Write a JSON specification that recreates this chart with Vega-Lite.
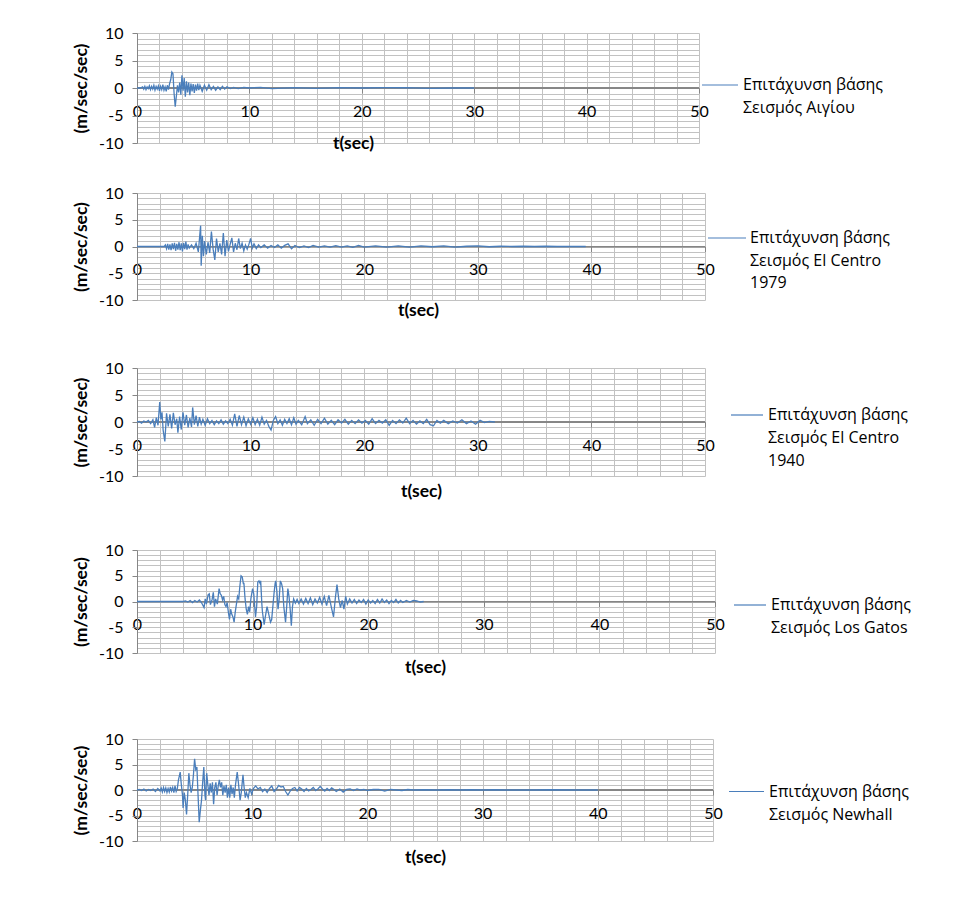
{
  "$schema": "https://vega.github.io/schema/vega-lite/v6.json",
  "background": "white",
  "padding": {"left": 72, "top": 25, "right": 0, "bottom": 0},
  "config": {
    "view": {"stroke": null},
    "font": "Lato",
    "axis": {"labelFont": "Lato", "labelFontSize": 16, "labelColor": "#000000", "titleFont": "Lato", "titleColor": "#000000", "titleFontWeight": "bold", "titleFontSize": 17.5, "gridColor": "#c2c2c2", "gridWidth": 1, "domainColor": "#868686", "tickColor": "#868686", "labelOverlap": false},
    "axisY": {"grid": true, "tickSize": 5, "labelPadding": 9, "titlePadding": 8, "labelOverlap": false},
    "legend": {"labelFont": "Open Sans", "labelFontSize": 16, "labelColor": "#000000"}
  },
  "datasets": {
    "aigio": [
      {"t":0,"a":0},{"t":0.3,"a":0},{"t":0.5,"a":0.2},{"t":0.6,"a":-0.2},{"t":0.7,"a":0.3},{"t":0.8,"a":-0.3},{"t":0.9,"a":0.2},{"t":1.0,"a":-0.1},{"t":1.1,"a":0.4},{"t":1.2,"a":-0.3},{"t":1.3,"a":0.3},{"t":1.4,"a":-0.2},{"t":1.5,"a":0.5},{"t":1.6,"a":-0.4},{"t":1.7,"a":0.3},{"t":1.8,"a":-0.2},{"t":1.9,"a":0.4},{"t":2.0,"a":-0.5},{"t":2.1,"a":0.3},{"t":2.2,"a":-0.3},{"t":2.3,"a":0.6},{"t":2.4,"a":-0.4},{"t":2.5,"a":0.2},{"t":2.6,"a":-0.6},{"t":2.7,"a":0.5},{"t":2.8,"a":-0.3},{"t":2.9,"a":0.8},{"t":3.0,"a":1.5},{"t":3.1,"a":2.9},{"t":3.2,"a":2.6},{"t":3.3,"a":-1.0},{"t":3.4,"a":-3.4},{"t":3.5,"a":-1.5},{"t":3.6,"a":0.5},{"t":3.7,"a":-0.8},{"t":3.8,"a":1.0},{"t":3.9,"a":-1.2},{"t":4.0,"a":2.3},{"t":4.1,"a":-0.5},{"t":4.2,"a":1.8},{"t":4.3,"a":-1.6},{"t":4.4,"a":1.2},{"t":4.5,"a":-0.8},{"t":4.6,"a":1.0},{"t":4.7,"a":-1.3},{"t":4.8,"a":0.8},{"t":4.9,"a":-0.6},{"t":5.0,"a":0.7},{"t":5.1,"a":-0.9},{"t":5.2,"a":0.6},{"t":5.3,"a":-0.5},{"t":5.4,"a":0.8},{"t":5.5,"a":-0.4},{"t":5.6,"a":0.5},{"t":5.8,"a":-0.6},{"t":6.0,"a":0.5},{"t":6.2,"a":-0.4},{"t":6.4,"a":0.6},{"t":6.6,"a":-0.3},{"t":6.8,"a":0.3},{"t":7.0,"a":-0.4},{"t":7.2,"a":0.2},{"t":7.4,"a":-0.3},{"t":7.6,"a":0.3},{"t":7.8,"a":-0.2},{"t":8.0,"a":0.2},{"t":8.3,"a":-0.1},{"t":8.6,"a":0.1},{"t":9.0,"a":-0.1},{"t":9.5,"a":0.1},{"t":10,"a":0},{"t":11,"a":0.1},{"t":12,"a":-0.1},{"t":14,"a":0.05},{"t":16,"a":-0.05},{"t":18,"a":0.05},{"t":20,"a":0},{"t":22,"a":0.05},{"t":24,"a":0.05},{"t":26,"a":-0.05},{"t":28,"a":0},{"t":30,"a":0}
    ],
    "ec79": [
      {"t":0,"a":0},{"t":2.4,"a":0},{"t":2.5,"a":0.3},{"t":2.6,"a":-0.4},{"t":2.7,"a":0.5},{"t":2.8,"a":-0.6},{"t":2.9,"a":0.4},{"t":3.0,"a":-0.7},{"t":3.1,"a":0.6},{"t":3.2,"a":-0.5},{"t":3.3,"a":0.7},{"t":3.4,"a":-0.8},{"t":3.5,"a":0.5},{"t":3.6,"a":-0.6},{"t":3.7,"a":0.8},{"t":3.8,"a":-0.7},{"t":3.9,"a":0.6},{"t":4.0,"a":-0.9},{"t":4.1,"a":0.7},{"t":4.2,"a":-0.5},{"t":4.3,"a":0.9},{"t":4.4,"a":-0.6},{"t":4.5,"a":0.4},{"t":4.6,"a":-0.3},{"t":4.8,"a":0.3},{"t":5.0,"a":-0.4},{"t":5.2,"a":0.6},{"t":5.4,"a":-1.0},{"t":5.5,"a":1.5},{"t":5.6,"a":3.9},{"t":5.65,"a":-3.6},{"t":5.75,"a":2.0},{"t":5.85,"a":-1.8},{"t":5.95,"a":1.0},{"t":6.1,"a":-1.5},{"t":6.25,"a":0.8},{"t":6.4,"a":-1.2},{"t":6.55,"a":2.8},{"t":6.7,"a":-0.5},{"t":6.85,"a":-2.5},{"t":7.0,"a":1.5},{"t":7.15,"a":-1.0},{"t":7.3,"a":0.6},{"t":7.45,"a":-1.5},{"t":7.6,"a":2.5},{"t":7.75,"a":-1.8},{"t":7.9,"a":1.2},{"t":8.05,"a":-0.9},{"t":8.2,"a":0.4},{"t":8.35,"a":1.6},{"t":8.5,"a":-1.0},{"t":8.65,"a":0.6},{"t":8.8,"a":-0.6},{"t":8.95,"a":1.5},{"t":9.1,"a":-0.4},{"t":9.25,"a":0.6},{"t":9.4,"a":-0.8},{"t":9.55,"a":0.3},{"t":9.7,"a":-0.5},{"t":9.85,"a":0.4},{"t":10.0,"a":1.5},{"t":10.15,"a":-0.3},{"t":10.3,"a":0.5},{"t":10.5,"a":-0.4},{"t":10.7,"a":0.3},{"t":10.9,"a":-0.2},{"t":11.2,"a":0.3},{"t":11.5,"a":-0.3},{"t":11.8,"a":0.2},{"t":12.1,"a":-0.2},{"t":12.4,"a":0.3},{"t":12.7,"a":-0.3},{"t":13.0,"a":0.2},{"t":13.3,"a":0.5},{"t":13.6,"a":-0.4},{"t":13.9,"a":0.2},{"t":14.3,"a":-0.2},{"t":14.7,"a":0.1},{"t":15.1,"a":-0.2},{"t":15.5,"a":0.2},{"t":16,"a":-0.1},{"t":16.5,"a":0.1},{"t":17,"a":-0.1},{"t":17.5,"a":0.15},{"t":18,"a":-0.1},{"t":18.5,"a":0.1},{"t":19,"a":-0.15},{"t":19.5,"a":0.2},{"t":20,"a":-0.1},{"t":21,"a":0.1},{"t":22,"a":-0.1},{"t":23,"a":0.1},{"t":24,"a":-0.1},{"t":25,"a":0.1},{"t":26,"a":-0.05},{"t":27,"a":0.1},{"t":28,"a":-0.1},{"t":29,"a":0.05},{"t":30,"a":0.1},{"t":31,"a":-0.05},{"t":32,"a":0.05},{"t":33,"a":0},{"t":34,"a":0.05},{"t":35,"a":0},{"t":36,"a":0.05},{"t":37,"a":0},{"t":38,"a":0},{"t":39.5,"a":0}
    ],
    "ec40": [
      {"t":0,"a":0},{"t":0.2,"a":0.1},{"t":0.4,"a":-0.2},{"t":0.6,"a":0.2},{"t":0.8,"a":0},{"t":1.0,"a":0.3},{"t":1.2,"a":-0.3},{"t":1.4,"a":0.4},{"t":1.55,"a":-1.0},{"t":1.7,"a":0.8},{"t":1.85,"a":-0.6},{"t":2.0,"a":3.7},{"t":2.1,"a":0.5},{"t":2.2,"a":1.8},{"t":2.3,"a":-1.5},{"t":2.45,"a":-3.6},{"t":2.6,"a":1.6},{"t":2.75,"a":-0.8},{"t":2.9,"a":1.4},{"t":3.05,"a":-1.2},{"t":3.2,"a":1.7},{"t":3.35,"a":-0.5},{"t":3.5,"a":0.6},{"t":3.6,"a":-2.0},{"t":3.75,"a":1.0},{"t":3.9,"a":-1.4},{"t":4.05,"a":1.8},{"t":4.2,"a":-0.6},{"t":4.35,"a":1.3},{"t":4.5,"a":-1.0},{"t":4.65,"a":0.7},{"t":4.8,"a":-0.9},{"t":4.9,"a":2.7},{"t":5.05,"a":-0.5},{"t":5.2,"a":1.2},{"t":5.35,"a":-0.8},{"t":5.5,"a":0.9},{"t":5.65,"a":-0.4},{"t":5.8,"a":0.5},{"t":6.0,"a":-0.6},{"t":6.2,"a":0.6},{"t":6.4,"a":-0.3},{"t":6.6,"a":0.3},{"t":6.8,"a":-0.5},{"t":7.0,"a":0.2},{"t":7.2,"a":-0.3},{"t":7.4,"a":0.4},{"t":7.6,"a":-0.4},{"t":7.8,"a":0.2},{"t":8.0,"a":-0.3},{"t":8.2,"a":0.5},{"t":8.4,"a":-0.6},{"t":8.6,"a":1.5},{"t":8.8,"a":-0.8},{"t":9.0,"a":1.2},{"t":9.2,"a":-0.5},{"t":9.4,"a":0.9},{"t":9.6,"a":-0.7},{"t":9.8,"a":0.6},{"t":10.0,"a":-0.4},{"t":10.2,"a":0.8},{"t":10.4,"a":-0.5},{"t":10.6,"a":0.5},{"t":10.8,"a":-0.6},{"t":11.0,"a":0.9},{"t":11.2,"a":-0.4},{"t":11.4,"a":0.3},{"t":11.6,"a":-0.8},{"t":11.8,"a":-1.5},{"t":12.0,"a":0.3},{"t":12.2,"a":1.0},{"t":12.4,"a":-0.3},{"t":12.6,"a":0.4},{"t":12.8,"a":-0.6},{"t":13.0,"a":0.5},{"t":13.2,"a":-0.3},{"t":13.4,"a":0.6},{"t":13.6,"a":-0.5},{"t":13.8,"a":0.8},{"t":14.0,"a":-0.4},{"t":14.2,"a":0.3},{"t":14.5,"a":-0.5},{"t":14.8,"a":1.0},{"t":15.0,"a":-0.3},{"t":15.3,"a":0.4},{"t":15.6,"a":-0.6},{"t":15.9,"a":0.5},{"t":16.2,"a":-0.3},{"t":16.5,"a":0.7},{"t":16.8,"a":-0.4},{"t":17.1,"a":0.3},{"t":17.4,"a":-0.5},{"t":17.7,"a":0.4},{"t":18.0,"a":-0.2},{"t":18.3,"a":0.5},{"t":18.6,"a":-0.4},{"t":18.9,"a":0.3},{"t":19.2,"a":-0.3},{"t":19.5,"a":0.4},{"t":19.8,"a":-0.2},{"t":20.1,"a":0.3},{"t":20.4,"a":-0.4},{"t":20.7,"a":0.6},{"t":21.0,"a":-0.3},{"t":21.3,"a":0.3},{"t":21.6,"a":-0.2},{"t":21.9,"a":0.4},{"t":22.2,"a":-0.6},{"t":22.5,"a":0.3},{"t":22.8,"a":-0.3},{"t":23.1,"a":0.4},{"t":23.4,"a":-0.2},{"t":23.7,"a":0.7},{"t":24.0,"a":-0.3},{"t":24.3,"a":0.3},{"t":24.6,"a":-0.4},{"t":24.9,"a":0.2},{"t":25.2,"a":-0.3},{"t":25.5,"a":0.5},{"t":25.8,"a":-0.5},{"t":26.1,"a":-0.7},{"t":26.4,"a":0.3},{"t":26.7,"a":-0.2},{"t":27.0,"a":0.3},{"t":27.4,"a":-0.3},{"t":27.8,"a":0.2},{"t":28.2,"a":-0.2},{"t":28.6,"a":0.4},{"t":29.0,"a":-0.3},{"t":29.4,"a":0.2},{"t":29.8,"a":-0.4},{"t":30.2,"a":0.3},{"t":30.6,"a":-0.1},{"t":31.0,"a":0.1},{"t":31.5,"a":0}
    ],
    "gatos": [
      {"t":0,"a":0},{"t":2,"a":0},{"t":4,"a":0},{"t":4.2,"a":0.1},{"t":4.4,"a":-0.1},{"t":4.6,"a":0.2},{"t":4.8,"a":-0.2},{"t":5.0,"a":0.2},{"t":5.2,"a":-0.1},{"t":5.4,"a":0.3},{"t":5.6,"a":-0.3},{"t":5.8,"a":-1.2},{"t":5.9,"a":0.5},{"t":6.0,"a":-0.5},{"t":6.15,"a":1.3},{"t":6.25,"a":1.5},{"t":6.35,"a":-0.6},{"t":6.5,"a":0.4},{"t":6.6,"a":1.8},{"t":6.7,"a":-1.0},{"t":6.8,"a":0.5},{"t":6.95,"a":-0.5},{"t":7.1,"a":2.5},{"t":7.2,"a":1.5},{"t":7.3,"a":1.2},{"t":7.4,"a":0.3},{"t":7.5,"a":1.0},{"t":7.6,"a":-0.6},{"t":7.7,"a":-1.0},{"t":7.8,"a":-0.2},{"t":7.9,"a":-2.0},{"t":8.0,"a":-3.5},{"t":8.1,"a":-1.5},{"t":8.2,"a":-2.5},{"t":8.3,"a":-3.0},{"t":8.4,"a":-4.0},{"t":8.5,"a":-2.0},{"t":8.6,"a":-0.5},{"t":8.7,"a":1.0},{"t":8.8,"a":0.5},{"t":8.9,"a":3.0},{"t":9.0,"a":5.0},{"t":9.1,"a":4.8},{"t":9.2,"a":3.5},{"t":9.25,"a":3.5},{"t":9.35,"a":0.5},{"t":9.45,"a":-1.5},{"t":9.55,"a":-2.5},{"t":9.65,"a":-1.0},{"t":9.75,"a":-2.0},{"t":9.85,"a":0.5},{"t":10.0,"a":2.5},{"t":10.1,"a":1.5},{"t":10.25,"a":-3.0},{"t":10.35,"a":-1.0},{"t":10.45,"a":3.8},{"t":10.55,"a":4.0},{"t":10.65,"a":3.5},{"t":10.7,"a":4.0},{"t":10.8,"a":-0.5},{"t":10.85,"a":-2.0},{"t":11.0,"a":-4.5},{"t":11.1,"a":-3.0},{"t":11.25,"a":-1.0},{"t":11.4,"a":-2.5},{"t":11.55,"a":-4.0},{"t":11.65,"a":-3.5},{"t":11.75,"a":-1.0},{"t":11.85,"a":1.5},{"t":11.95,"a":3.5},{"t":12.0,"a":4.0},{"t":12.1,"a":2.0},{"t":12.2,"a":-1.5},{"t":12.3,"a":0.5},{"t":12.4,"a":4.0},{"t":12.5,"a":3.5},{"t":12.6,"a":2.5},{"t":12.7,"a":-1.0},{"t":12.85,"a":-4.0},{"t":12.95,"a":-1.0},{"t":13.05,"a":2.5},{"t":13.15,"a":1.0},{"t":13.25,"a":-1.5},{"t":13.35,"a":-4.7},{"t":13.45,"a":-1.0},{"t":13.55,"a":0.5},{"t":13.7,"a":-0.3},{"t":13.85,"a":0.4},{"t":14.0,"a":-0.4},{"t":14.2,"a":0.5},{"t":14.4,"a":-0.5},{"t":14.6,"a":0.6},{"t":14.8,"a":-0.4},{"t":15.0,"a":0.7},{"t":15.2,"a":-0.6},{"t":15.4,"a":0.5},{"t":15.6,"a":-0.3},{"t":15.8,"a":0.8},{"t":16.0,"a":-0.5},{"t":16.2,"a":1.0},{"t":16.4,"a":-0.8},{"t":16.6,"a":1.2},{"t":16.8,"a":-1.0},{"t":17.0,"a":-3.0},{"t":17.15,"a":0.5},{"t":17.3,"a":3.3},{"t":17.45,"a":0.5},{"t":17.6,"a":-1.2},{"t":17.75,"a":0.2},{"t":17.9,"a":-1.5},{"t":18.05,"a":1.0},{"t":18.2,"a":-0.5},{"t":18.4,"a":0.5},{"t":18.6,"a":-0.3},{"t":18.8,"a":0.4},{"t":19.0,"a":-0.4},{"t":19.2,"a":0.3},{"t":19.4,"a":-0.2},{"t":19.6,"a":0.4},{"t":19.8,"a":-0.5},{"t":20.0,"a":0.3},{"t":20.2,"a":-0.3},{"t":20.4,"a":0.2},{"t":20.6,"a":-0.4},{"t":20.8,"a":0.4},{"t":21.0,"a":-0.3},{"t":21.2,"a":0.5},{"t":21.4,"a":-0.2},{"t":21.6,"a":0.3},{"t":21.8,"a":-0.4},{"t":22.0,"a":0.2},{"t":22.2,"a":-0.2},{"t":22.4,"a":0.4},{"t":22.6,"a":-0.3},{"t":22.8,"a":0.2},{"t":23.0,"a":-0.2},{"t":23.3,"a":0.2},{"t":23.6,"a":-0.1},{"t":23.9,"a":0.2},{"t":24.2,"a":0.1},{"t":24.5,"a":-0.1},{"t":24.8,"a":0}
    ],
    "newhall": [
      {"t":0,"a":0},{"t":0.2,"a":0.1},{"t":0.4,"a":-0.1},{"t":0.6,"a":0.2},{"t":0.8,"a":-0.2},{"t":1.0,"a":0.1},{"t":1.2,"a":-0.1},{"t":1.4,"a":0.2},{"t":1.6,"a":-0.3},{"t":1.8,"a":0.3},{"t":2.0,"a":-0.2},{"t":2.1,"a":0.4},{"t":2.2,"a":-0.4},{"t":2.3,"a":0.5},{"t":2.4,"a":-0.3},{"t":2.5,"a":0.4},{"t":2.6,"a":-0.5},{"t":2.7,"a":0.3},{"t":2.8,"a":-0.4},{"t":2.9,"a":0.6},{"t":3.0,"a":-0.2},{"t":3.1,"a":0.5},{"t":3.2,"a":-0.5},{"t":3.3,"a":0.8},{"t":3.4,"a":-0.3},{"t":3.5,"a":0.3},{"t":3.6,"a":2.0},{"t":3.75,"a":3.5},{"t":3.85,"a":1.0},{"t":3.95,"a":-1.0},{"t":4.0,"a":-3.5},{"t":4.1,"a":-0.5},{"t":4.2,"a":-2.0},{"t":4.3,"a":-4.8},{"t":4.4,"a":-1.0},{"t":4.5,"a":3.3},{"t":4.6,"a":1.0},{"t":4.7,"a":-0.5},{"t":4.8,"a":0.5},{"t":4.9,"a":3.0},{"t":5.0,"a":6.1},{"t":5.1,"a":4.0},{"t":5.2,"a":4.5},{"t":5.3,"a":-1.0},{"t":5.4,"a":-6.3},{"t":5.5,"a":-4.0},{"t":5.6,"a":-2.0},{"t":5.7,"a":1.5},{"t":5.8,"a":4.5},{"t":5.9,"a":-1.0},{"t":5.95,"a":-2.0},{"t":6.05,"a":3.3},{"t":6.15,"a":1.0},{"t":6.25,"a":-1.0},{"t":6.35,"a":1.3},{"t":6.45,"a":-0.5},{"t":6.55,"a":1.5},{"t":6.65,"a":-2.8},{"t":6.75,"a":0.5},{"t":6.85,"a":1.5},{"t":6.95,"a":-1.0},{"t":7.05,"a":0.8},{"t":7.15,"a":2.0},{"t":7.25,"a":0.5},{"t":7.35,"a":1.5},{"t":7.45,"a":-1.0},{"t":7.55,"a":0.8},{"t":7.65,"a":-0.5},{"t":7.75,"a":1.0},{"t":7.85,"a":-1.5},{"t":7.95,"a":0.5},{"t":8.05,"a":-1.5},{"t":8.15,"a":1.0},{"t":8.25,"a":-0.8},{"t":8.35,"a":0.5},{"t":8.45,"a":-1.5},{"t":8.55,"a":1.0},{"t":8.7,"a":3.5},{"t":8.8,"a":1.5},{"t":8.95,"a":-2.0},{"t":9.05,"a":-0.5},{"t":9.2,"a":3.0},{"t":9.3,"a":0.5},{"t":9.4,"a":-1.5},{"t":9.5,"a":-0.5},{"t":9.65,"a":-1.5},{"t":9.8,"a":0.3},{"t":9.95,"a":-0.8},{"t":10.1,"a":0.3},{"t":10.3,"a":0.8},{"t":10.5,"a":0.2},{"t":10.7,"a":0.5},{"t":10.9,"a":-0.3},{"t":11.1,"a":0.2},{"t":11.3,"a":-0.5},{"t":11.5,"a":0.3},{"t":11.7,"a":0.8},{"t":11.9,"a":-0.3},{"t":12.1,"a":0.2},{"t":12.3,"a":0.9},{"t":12.5,"a":0.6},{"t":12.7,"a":0.7},{"t":12.9,"a":-0.3},{"t":13.1,"a":-1.0},{"t":13.3,"a":-0.2},{"t":13.5,"a":0.3},{"t":13.7,"a":0.5},{"t":13.9,"a":-0.2},{"t":14.1,"a":0.5},{"t":14.3,"a":0.2},{"t":14.5,"a":-0.3},{"t":14.7,"a":0.3},{"t":14.9,"a":-0.2},{"t":15.1,"a":0.1},{"t":15.3,"a":0.5},{"t":15.5,"a":-0.1},{"t":15.7,"a":0.2},{"t":15.9,"a":0.7},{"t":16.1,"a":0.2},{"t":16.3,"a":-0.2},{"t":16.5,"a":0.3},{"t":16.7,"a":-0.1},{"t":16.9,"a":0.4},{"t":17.1,"a":0.1},{"t":17.3,"a":-0.3},{"t":17.6,"a":0.2},{"t":17.9,"a":-0.4},{"t":18.2,"a":0.1},{"t":18.5,"a":0.2},{"t":18.8,"a":-0.1},{"t":19.1,"a":0.2},{"t":19.4,"a":0},{"t":19.7,"a":0.1},{"t":20.0,"a":-0.1},{"t":20.5,"a":0.1},{"t":21,"a":0.1},{"t":21.5,"a":-0.2},{"t":22,"a":0.1},{"t":22.5,"a":0},{"t":23,"a":-0.1},{"t":23.5,"a":0.1},{"t":24,"a":0},{"t":25,"a":0.05},{"t":26,"a":0},{"t":27,"a":0.05},{"t":28,"a":0},{"t":29,"a":0.05},{"t":30,"a":0},{"t":31,"a":0.05},{"t":32,"a":0},{"t":34,"a":0},{"t":36,"a":0.05},{"t":38,"a":0},{"t":40,"a":0}
    ]
  },
  "bounds": "flush",
  "spacing": 50,
  "resolve": {"scale": {"color": "independent"}, "legend": {"color": "independent"}},
  "vconcat": [
    {
      "width": 562, "height": 110,
      "data": {"name": "aigio"},
      "layer": [
        {
          "mark": {"type": "rule", "color": "#868686", "strokeWidth": 1},
          "encoding": {
            "x": {"datum": 0, "type": "quantitative", "scale": {"domain": [0, 50], "nice": false, "zero": false}, "axis": {"orient": "bottom", "offset": -55, "values": [0,10,20,30,40,50], "grid": false, "domain": true, "ticks": true, "tickSize": 5, "labelPadding": 10, "title": null, "labelFlush": false}},
            "x2": {"datum": 50},
            "y": {"datum": 0, "type": "quantitative", "scale": {"domain": [-10, 10], "nice": false}, "axis": {"title": "(m/sec/sec)", "values": [-10,-9,-8,-7,-6,-5,-4,-3,-2,-1,0,1,2,3,4,5,6,7,8,9,10], "labelExpr": "datum.value % 5 === 0 ? '' + datum.value : ''", "tickOpacity": {"condition": {"test": "datum.value % 5 === 0", "value": 1}, "value": 0}}}
          }
        },
        {
          "mark": {"type": "line", "strokeWidth": 1.3, "color": "#4a7ebb"},
          "encoding": {
            "x": {"field": "t", "type": "quantitative",
              "axis": {"orient": "bottom", "values": [0,2,4,6,8,10,12,14,16,18,20,22,24,26,28,30,32,34,36,38,40,42,44,46,48,50], "grid": true, "domain": false, "ticks": false, "labels": false, "title": "t(sec)", "titleX": 216, "titleY": 0, "titleBaseline": "middle", "titleAlign": "center"}},
            "y": {"field": "a", "type": "quantitative", "axis": {"title": "(m/sec/sec)", "values": [-10,-9,-8,-7,-6,-5,-4,-3,-2,-1,0,1,2,3,4,5,6,7,8,9,10], "labelExpr": "datum.value % 5 === 0 ? '' + datum.value : ''", "tickOpacity": {"condition": {"test": "datum.value % 5 === 0", "value": 1}, "value": 0}}},
            "color": {"datum": "Επιτάχυνση βάσης|Σεισμός Αιγίου", "type": "nominal", "scale": {"range": ["#4a7ebb"]},
              "legend": {"orient": "none", "legendX": 564, "legendY": 33, "title": null, "padding": 0, "symbolType": "stroke", "symbolSize": 1296, "symbolStrokeWidth": 1.2, "labelOffset": 4, "labelLimit": 300, "labelExpr": "split(datum.label, '|')", "encode": {"labels": {"update": {"lineHeight": {"value": 23}}}}}}
          }
        }
      ],
      "resolve": {"axis": {"x": "independent"}}
    },
    {
      "bounds": "flush",
      "spacing": 68,
      "resolve": {"scale": {"color": "independent"}, "legend": {"color": "independent"}},
      "vconcat": [
        {
          "width": 568, "height": 107,
          "data": {"name": "ec79"},
          "layer": [
            {
              "mark": {"type": "rule", "color": "#868686", "strokeWidth": 1},
              "encoding": {
                "x": {"datum": 0, "type": "quantitative", "scale": {"domain": [0, 50], "nice": false, "zero": false}, "axis": {"orient": "bottom", "offset": -53.5, "values": [0,10,20,30,40,50], "grid": false, "domain": true, "ticks": true, "tickSize": 5, "labelPadding": 10, "title": null, "labelFlush": false}},
                "x2": {"datum": 50},
                "y": {"datum": 0, "type": "quantitative", "scale": {"domain": [-10, 10], "nice": false}, "axis": {"title": "(m/sec/sec)", "values": [-10,-9,-8,-7,-6,-5,-4,-3,-2,-1,0,1,2,3,4,5,6,7,8,9,10], "labelExpr": "datum.value % 5 === 0 ? '' + datum.value : ''", "tickOpacity": {"condition": {"test": "datum.value % 5 === 0", "value": 1}, "value": 0}}}
              }
            },
            {
              "mark": {"type": "line", "strokeWidth": 1.3, "color": "#4a7ebb"},
              "encoding": {
                "x": {"field": "t", "type": "quantitative",
                  "axis": {"orient": "bottom", "values": [0,2,4,6,8,10,12,14,16,18,20,22,24,26,28,30,32,34,36,38,40,42,44,46,48,50], "grid": true, "domain": false, "ticks": false, "labels": false, "title": "t(sec)", "titleX": 281, "titleY": 10, "titleBaseline": "middle", "titleAlign": "center"}},
                "y": {"field": "a", "type": "quantitative", "axis": {"title": "(m/sec/sec)", "values": [-10,-9,-8,-7,-6,-5,-4,-3,-2,-1,0,1,2,3,4,5,6,7,8,9,10], "labelExpr": "datum.value % 5 === 0 ? '' + datum.value : ''", "tickOpacity": {"condition": {"test": "datum.value % 5 === 0", "value": 1}, "value": 0}}},
                "color": {"datum": "Επιτάχυνση βάσης|Σεισμός El Centro|1979", "type": "nominal", "scale": {"range": ["#4a7ebb"]},
                  "legend": {"orient": "none", "legendX": 570, "legendY": 25, "title": null, "padding": 0, "symbolType": "stroke", "symbolSize": 1444, "symbolStrokeWidth": 1.2, "labelOffset": 3, "labelLimit": 300, "labelExpr": "split(datum.label, '|')", "encode": {"labels": {"update": {"lineHeight": {"value": 22.5}}}}}}
              }
            }
          ],
          "resolve": {"axis": {"x": "independent"}}
        },
        {
          "bounds": "flush",
          "spacing": 74,
          "resolve": {"scale": {"color": "independent"}, "legend": {"color": "independent"}},
          "vconcat": [
            {
              "width": 568, "height": 108,
              "data": {"name": "ec40"},
              "layer": [
                {
                  "mark": {"type": "rule", "color": "#868686", "strokeWidth": 1},
                  "encoding": {
                    "x": {"datum": 0, "type": "quantitative", "scale": {"domain": [0, 50], "nice": false, "zero": false}, "axis": {"orient": "bottom", "offset": -54, "values": [0,10,20,30,40,50], "grid": false, "domain": true, "ticks": true, "tickSize": 5, "labelPadding": 10, "title": null, "labelFlush": false}},
                    "x2": {"datum": 50},
                    "y": {"datum": 0, "type": "quantitative", "scale": {"domain": [-10, 10], "nice": false}, "axis": {"title": "(m/sec/sec)", "values": [-10,-9,-8,-7,-6,-5,-4,-3,-2,-1,0,1,2,3,4,5,6,7,8,9,10], "labelExpr": "datum.value % 5 === 0 ? '' + datum.value : ''", "tickOpacity": {"condition": {"test": "datum.value % 5 === 0", "value": 1}, "value": 0}}}
                  }
                },
                {
                  "mark": {"type": "line", "strokeWidth": 1.3, "color": "#4a7ebb"},
                  "encoding": {
                    "x": {"field": "t", "type": "quantitative",
                      "axis": {"orient": "bottom", "values": [0,2,4,6,8,10,12,14,16,18,20,22,24,26,28,30,32,34,36,38,40,42,44,46,48,50], "grid": true, "domain": false, "ticks": false, "labels": false, "title": "t(sec)", "titleX": 284, "titleY": 15, "titleBaseline": "middle", "titleAlign": "center"}},
                    "y": {"field": "a", "type": "quantitative", "axis": {"title": "(m/sec/sec)", "values": [-10,-9,-8,-7,-6,-5,-4,-3,-2,-1,0,1,2,3,4,5,6,7,8,9,10], "labelExpr": "datum.value % 5 === 0 ? '' + datum.value : ''", "tickOpacity": {"condition": {"test": "datum.value % 5 === 0", "value": 1}, "value": 0}}},
                    "color": {"datum": "Επιτάχυνση βάσης|Σεισμός El Centro|1940", "type": "nominal", "scale": {"range": ["#4a7ebb"]},
                      "legend": {"orient": "none", "legendX": 593, "legendY": 30, "title": null, "padding": 0, "symbolType": "stroke", "symbolSize": 1024, "symbolStrokeWidth": 1.2, "labelOffset": 4, "labelLimit": 300, "labelExpr": "split(datum.label, '|')", "encode": {"labels": {"update": {"lineHeight": {"value": 23}}}}}}
                  }
                }
              ],
              "resolve": {"axis": {"x": "independent"}}
            },
            {
              "bounds": "flush",
              "spacing": 86,
              "resolve": {"scale": {"color": "independent"}, "legend": {"color": "independent"}},
              "vconcat": [
                {
                  "width": 578, "height": 103,
                  "data": {"name": "gatos"},
                  "layer": [
                    {
                      "mark": {"type": "rule", "color": "#868686", "strokeWidth": 1},
                      "encoding": {
                        "x": {"datum": 0, "type": "quantitative", "scale": {"domain": [0, 50], "nice": false, "zero": false}, "axis": {"orient": "bottom", "offset": -51.5, "values": [0,10,20,30,40,50], "grid": false, "domain": true, "ticks": true, "tickSize": 5, "labelPadding": 10, "title": null, "labelFlush": false}},
                        "x2": {"datum": 50},
                        "y": {"datum": 0, "type": "quantitative", "scale": {"domain": [-10, 10], "nice": false}, "axis": {"title": "(m/sec/sec)", "values": [-10,-9,-8,-7,-6,-5,-4,-3,-2,-1,0,1,2,3,4,5,6,7,8,9,10], "labelExpr": "datum.value % 5 === 0 ? '' + datum.value : ''", "tickOpacity": {"condition": {"test": "datum.value % 5 === 0", "value": 1}, "value": 0}}}
                      }
                    },
                    {
                      "mark": {"type": "line", "strokeWidth": 1.3, "color": "#4a7ebb"},
                      "encoding": {
                        "x": {"field": "t", "type": "quantitative",
                          "axis": {"orient": "bottom", "values": [0,2,4,6,8,10,12,14,16,18,20,22,24,26,28,30,32,34,36,38,40,42,44,46,48,50], "grid": true, "domain": false, "ticks": false, "labels": false, "title": "t(sec)", "titleX": 288, "titleY": 14, "titleBaseline": "middle", "titleAlign": "center"}},
                        "y": {"field": "a", "type": "quantitative", "axis": {"title": "(m/sec/sec)", "values": [-10,-9,-8,-7,-6,-5,-4,-3,-2,-1,0,1,2,3,4,5,6,7,8,9,10], "labelExpr": "datum.value % 5 === 0 ? '' + datum.value : ''", "tickOpacity": {"condition": {"test": "datum.value % 5 === 0", "value": 1}, "value": 0}}},
                        "color": {"datum": "Επιτάχυνση βάσης|Σεισμός Los Gatos", "type": "nominal", "scale": {"range": ["#4a7ebb"]},
                          "legend": {"orient": "none", "legendX": 596, "legendY": 38, "title": null, "padding": 0, "symbolType": "stroke", "symbolSize": 1024, "symbolStrokeWidth": 1.2, "labelOffset": 4, "labelLimit": 300, "labelExpr": "split(datum.label, '|')", "encode": {"labels": {"update": {"lineHeight": {"value": 23}}}}}}
                      }
                    }
                  ],
                  "resolve": {"axis": {"x": "independent"}}
                },
                {
                  "width": 576, "height": 102,
                  "data": {"name": "newhall"},
                  "layer": [
                    {
                      "mark": {"type": "rule", "color": "#868686", "strokeWidth": 1},
                      "encoding": {
                        "x": {"datum": 0, "type": "quantitative", "scale": {"domain": [0, 50], "nice": false, "zero": false}, "axis": {"orient": "bottom", "offset": -51, "values": [0,10,20,30,40,50], "grid": false, "domain": true, "ticks": true, "tickSize": 5, "labelPadding": 10, "title": null, "labelFlush": false}},
                        "x2": {"datum": 50},
                        "y": {"datum": 0, "type": "quantitative", "scale": {"domain": [-10, 10], "nice": false}, "axis": {"title": "(m/sec/sec)", "values": [-10,-9,-8,-7,-6,-5,-4,-3,-2,-1,0,1,2,3,4,5,6,7,8,9,10], "labelExpr": "datum.value % 5 === 0 ? '' + datum.value : ''", "tickOpacity": {"condition": {"test": "datum.value % 5 === 0", "value": 1}, "value": 0}}}
                      }
                    },
                    {
                      "mark": {"type": "line", "strokeWidth": 1.3, "color": "#4a7ebb"},
                      "encoding": {
                        "x": {"field": "t", "type": "quantitative",
                          "axis": {"orient": "bottom", "values": [0,2,4,6,8,10,12,14,16,18,20,22,24,26,28,30,32,34,36,38,40,42,44,46,48,50], "grid": true, "domain": false, "ticks": false, "labels": false, "title": "t(sec)", "titleX": 288, "titleY": 16, "titleBaseline": "middle", "titleAlign": "center"}},
                        "y": {"field": "a", "type": "quantitative", "axis": {"title": "(m/sec/sec)", "values": [-10,-9,-8,-7,-6,-5,-4,-3,-2,-1,0,1,2,3,4,5,6,7,8,9,10], "labelExpr": "datum.value % 5 === 0 ? '' + datum.value : ''", "tickOpacity": {"condition": {"test": "datum.value % 5 === 0", "value": 1}, "value": 0}}},
                        "color": {"datum": "Επιτάχυνση βάσης|Σεισμός Newhall", "type": "nominal", "scale": {"range": ["#4a7ebb"]},
                          "legend": {"orient": "none", "legendX": 591, "legendY": 34, "title": null, "padding": 0, "symbolType": "stroke", "symbolSize": 1225, "symbolStrokeWidth": 1.2, "labelOffset": 4, "labelLimit": 300, "labelExpr": "split(datum.label, '|')", "encode": {"labels": {"update": {"lineHeight": {"value": 23}}}}}}
                      }
                    }
                  ],
                  "resolve": {"axis": {"x": "independent"}}
                }
              ]
            }
          ]
        }
      ]
    }
  ]
}
